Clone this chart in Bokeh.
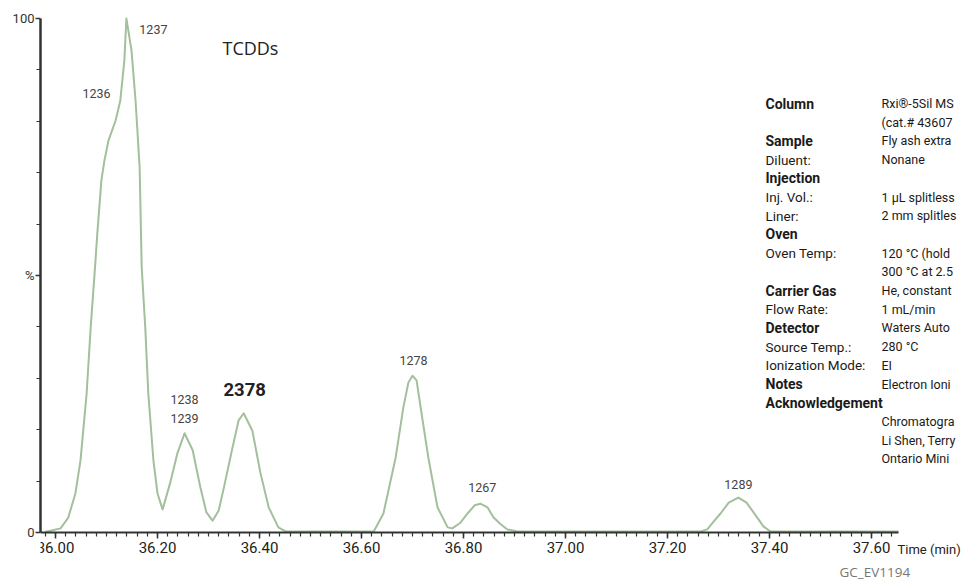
import numpy as np
from bokeh.plotting import figure
from bokeh.models import Range1d, FixedTicker, Label, ColumnDataSource
from bokeh.core.properties import value
from bokeh.embed import file_html
from bokeh.resources import INLINE

# ---------------- data ----------------
time_min = [35.980, 35.984, 36.010, 36.025, 36.039, 36.049, 36.061, 36.069, 36.078, 36.082,
            36.090, 36.096, 36.104, 36.118, 36.127, 36.135, 36.139, 36.149, 36.157, 36.165,
            36.169, 36.176, 36.182, 36.192, 36.200, 36.210, 36.225, 36.239, 36.253, 36.269,
            36.284, 36.296, 36.308, 36.320, 36.329, 36.347, 36.359, 36.369, 36.386, 36.402,
            36.418, 36.437, 36.451, 36.624, 36.643, 36.667, 36.682, 36.692, 36.700, 36.708,
            36.716, 36.731, 36.749, 36.769, 36.778, 36.794, 36.808, 36.822, 36.833, 36.847,
            36.859, 36.873, 36.886, 36.906, 37.265, 37.278, 37.292, 37.304, 37.320, 37.339,
            37.355, 37.376, 37.388, 37.402, 37.653]
intensity = [0.2, 0.2, 0.8, 2.9, 7.6, 14.0, 27.0, 39.9, 52.3, 58.2,
             68.5, 72.4, 76.3, 80.2, 84.0, 91.8, 100.0, 93.8, 84.0, 71.0,
             51.6, 39.9, 27.0, 14.0, 7.6, 4.5, 9.7, 15.4, 19.3, 16.0,
             8.8, 3.9, 2.3, 4.3, 8.2, 16.5, 21.8, 23.2, 19.8, 11.5,
             4.9, 1.0, 0.2, 0.2, 3.7, 14.6, 24.3, 29.2, 30.5, 29.6,
             24.3, 14.6, 4.9, 1.0, 0.8, 1.9, 3.7, 5.3, 5.6, 4.9,
             2.9, 1.6, 0.6, 0.2, 0.2, 0.6, 2.3, 3.7, 5.8, 6.8,
             5.8, 2.9, 1.2, 0.2, 0.2]

peak_names = ["1236", "1237", "1238", "1239", "1278", "1267", "1289"]
peak_rt = [36.104, 36.139, 36.253, 36.253, 36.700, 36.833, 37.339]
peak_height = [76.3, 100.0, 19.3, 19.3, 30.5, 5.6, 6.8]

main_name = ["2378"]
main_rt = [36.369]
main_height = [23.2]

x_tick_values = [36.0, 36.2, 36.4, 36.6, 36.8, 37.0, 37.2, 37.4, 37.6]
x_tick_labels = ["36.00", "36.20", "36.40", "36.60", "36.80", "37.00", "37.20", "37.40", "37.60"]
y_tick_values = [0, 50, 100]
y_tick_labels = ["0", "%", "100"]

info_keys = ["Column", "", "Sample", "Diluent:", "Injection", "Inj. Vol.:", "Liner:", "Oven",
             "Oven Temp:", "", "Carrier Gas", "Flow Rate:", "Detector", "Source Temp.:",
             "Ionization Mode:", "Notes", "Acknowledgement", "", "", ""]
info_bold = [True, False, True, False, True, False, False, True, False, False, True, False,
             True, False, False, True, True, False, False, False]
info_vals = ["Rxi®-5Sil MS", "(cat.# 43607", "Fly ash extra", "Nonane", "", "1 µL splitless",
             "2 mm splitles", "", "120 °C (hold", "300 °C at 2.5", "He, constant", "1 mL/min",
             "Waters Auto", "280 °C", "EI", "Electron Ioni", "", "Chromatogra",
             "Li Shen, Terry", "Ontario Mini"]

# ---------------- layout helpers (pixel -> data) ----------------
def dx(px):
    return 36 + (px - 55) / 510.0

def dy(py):
    return (532 - py) / 5.14

W, H = 962, 579
FONT = "Roboto"
AX = "#333333"

p = figure(width=W, height=H, output_backend="svg", toolbar_location=None,
           x_range=Range1d(dx(40), dx(W)), y_range=Range1d(dy(H), dy(6)),
           min_border_left=40, min_border_right=0, min_border_top=6, min_border_bottom=0)
p.grid.visible = False
p.outline_line_color = None
p.background_fill_color = "white"
p.border_fill_color = "white"

# curve
p.line(time_min, intensity, line_color="#a3bf9c", line_width=2, line_join="round")

# x axis (drawn at y = 0 inside the frame)
xa = p.xaxis[0]
xa.fixed_location = 0
minor_x = [float(v) for v in np.round(np.arange(35.98, 37.66, 0.02), 2)]
xa.ticker = FixedTicker(ticks=x_tick_values, minor_ticks=minor_x)
xa.major_label_overrides = {v: l for v, l in zip(x_tick_values, x_tick_labels)}
xa.bounds = (dx(40), dx(898))
xa.axis_line_color = AX
xa.axis_line_width = 2
xa.major_tick_line_color = AX
xa.minor_tick_line_color = AX
xa.major_tick_line_width = 1.5
xa.minor_tick_line_width = 1.2
xa.major_tick_in = 0
xa.major_tick_out = 6
xa.minor_tick_in = 0
xa.minor_tick_out = 4
xa.major_label_standoff = 3
xa.major_label_text_font = FONT
xa.major_label_text_font_size = "15px"
xa.major_label_text_color = "#222222"

# y axis
ya = p.yaxis[0]
ya.ticker = FixedTicker(ticks=y_tick_values, minor_ticks=[10, 20, 30, 40, 60, 70, 80, 90])
ya.major_label_overrides = {v: l for v, l in zip(y_tick_values, y_tick_labels)}
ya.bounds = (0, 100)
ya.axis_line_color = AX
ya.axis_line_width = 2.5
ya.major_tick_line_color = AX
ya.minor_tick_line_color = AX
ya.major_tick_line_width = 1.5
ya.minor_tick_line_width = 1.2
ya.major_tick_in = 0
ya.major_tick_out = 5
ya.minor_tick_in = 0
ya.minor_tick_out = 4
ya.major_label_standoff = 1
ya.major_label_text_font = FONT
ya.major_label_text_font_size = "13px"
ya.major_label_text_color = "#333333"

# peak labels (offsets in screen px from the apex)
peak_dx = [-12, 27, 0, 0, 1, 2, 0]
peak_dy = [-47, 11, -34, -15, -15, -16, -13]
src = ColumnDataSource(dict(x=peak_rt, y=peak_height, t=peak_names, ox=peak_dx, oy=peak_dy))
p.text(x="x", y="y", text="t", x_offset="ox", y_offset="oy", source=src,
       text_font=value(FONT), text_font_size=value("12.5px"), text_color="#444444",
       text_align="center", text_baseline="middle")
src2 = ColumnDataSource(dict(x=main_rt, y=main_height, t=main_name))
p.text(x="x", y="y", text="t", x_offset=1, y_offset=-24, source=src2,
       text_font=value(FONT), text_font_size=value("18.5px"), text_font_style="bold",
       text_color="#222222", text_align="center", text_baseline="middle")

# title
p.add_layout(Label(x=dx(222), y=dy(47), text="TCDDs", text_font="Open Sans",
                   text_font_size="18px", text_color="#222222",
                   text_align="left", text_baseline="middle"))

# info block
for i, (k, b, v) in enumerate(zip(info_keys, info_bold, info_vals)):
    py = 103 + i * 18.7
    if k:
        p.add_layout(Label(x=dx(765), y=dy(py), text=k, text_font=FONT,
                           text_font_size="14px" if b else "13.5px",
                           text_font_style="bold" if b else "normal",
                           text_color="#1a1a1a", text_align="left", text_baseline="middle"))
    if v:
        p.add_layout(Label(x=dx(881), y=dy(py), text=v, text_font=FONT,
                           text_font_size="12.5px", text_color="#1a1a1a",
                           text_align="left", text_baseline="middle"))

# axis title and figure code
p.add_layout(Label(x=dx(897), y=dy(549), text="Time (min)", text_font=FONT,
                   text_font_size="13px", text_color="#222222",
                   text_align="left", text_baseline="middle"))
p.add_layout(Label(x=dx(839), y=dy(571), text="GC_EV1194", text_font="Open Sans",
                   text_font_size="13.5px", text_color="#777777",
                   text_align="left", text_baseline="middle"))

open("out.html", "w").write(file_html(p, INLINE))
